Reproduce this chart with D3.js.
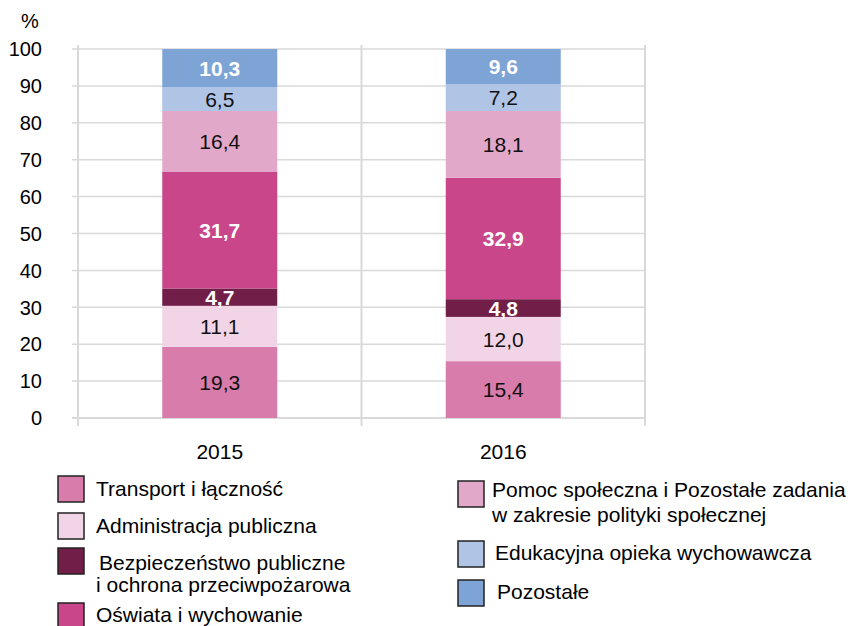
<!DOCTYPE html>
<html>
<head>
<meta charset="utf-8">
<script src="https://cdn.jsdelivr.net/npm/d3@7"></script>
<style>
  body { margin: 0; background: #fff; }
  svg { font-family: "Liberation Sans", Arial, sans-serif; }
</style>
</head>
<body>
<svg id="chart" width="854" height="626"></svg>
<script>
// Years on the category axis
const years = ["2015", "2016"];

// Spending categories, bottom to top of each stack
const categories = [
  "Transport i łączność",
  "Administracja publiczna",
  "Bezpieczeństwo publiczne i ochrona przeciwpożarowa",
  "Oświata i wychowanie",
  "Pomoc społeczna i Pozostałe zadania w zakresie polityki społecznej",
  "Edukacyjna opieka wychowawcza",
  "Pozostałe"
];

// Shares in percent per year, same order as categories
const values2015 = [19.3, 11.1, 4.7, 31.7, 16.4, 6.5, 10.3];
const values2016 = [15.4, 12.0, 4.8, 32.9, 18.1, 7.2, 9.6];

// Y axis ticks
const yTicks = [0, 10, 20, 30, 40, 50, 60, 70, 80, 90, 100];

const colors = ["#d77cab", "#f1d5e7", "#711f49", "#c9468a", "#e2a8c9", "#b0c4e6", "#7ea4d6"];
const whiteLabel = [false, false, true, true, false, false, true];

// Legend lines (wrapped text), left and right columns
const legendLines = [
  ["Transport i łączność"],
  ["Administracja publiczna"],
  ["Bezpieczeństwo publiczne", "i ochrona przeciwpożarowa"],
  ["Oświata i wychowanie"],
  ["Pomoc społeczna i Pozostałe zadania", "w zakresie polityki społecznej"],
  ["Edukacyjna opieka wychowawcza"],
  ["Pozostałe"]
];

const svg = d3.select("#chart");
const plotLeft = 78, plotRight = 645, plotTop = 49, plotBottom = 418;

const x = d3.scaleBand().domain(years).range([plotLeft, plotRight]).paddingInner(0).paddingOuter(0);
const y = d3.scaleLinear().domain([0, 100]).range([plotBottom, plotTop]);
const barW = 115;

const gridColor = "#d9d9d9";

// horizontal gridlines with small outward ticks
svg.append("g").selectAll("line").data(yTicks).join("line")
  .attr("x1", plotLeft - 6).attr("x2", plotRight)
  .attr("y1", d => y(d)).attr("y2", d => y(d))
  .attr("stroke", gridColor).attr("stroke-width", d => d === 0 ? 2 : 1.5);

// vertical lines at category boundaries
const bounds = [plotLeft, ...years.slice(1).map(d => x(d)), plotRight];
svg.append("g").selectAll("line").data(bounds).join("line")
  .attr("x1", d => d).attr("x2", d => d)
  .attr("y1", plotTop - 4).attr("y2", plotBottom + 8)
  .attr("stroke", gridColor).attr("stroke-width", 2);

// y tick labels
svg.append("g").selectAll("text").data(yTicks).join("text")
  .attr("x", 42).attr("y", d => y(d)).attr("dy", "0.36em")
  .attr("text-anchor", "end").attr("font-size", 20).attr("fill", "#000")
  .text(d => d);

svg.append("text").attr("x", 30).attr("y", 28).attr("text-anchor", "middle")
  .attr("font-size", 20).text("%");

// x labels
svg.append("g").selectAll("text").data(years).join("text")
  .attr("x", d => x(d) + x.bandwidth() / 2).attr("y", 459)
  .attr("text-anchor", "middle").attr("font-size", 21).text(d => d);

// stacked bars
const rows = years.map((yr, i) => {
  const vals = i === 0 ? values2015 : values2016;
  const r = { year: yr };
  categories.forEach((c, k) => r[c] = vals[k]);
  return r;
});
const stack = d3.stack().keys(categories)(rows);

stack.forEach((layer, k) => {
  const g = svg.append("g");
  g.selectAll("rect").data(layer).join("rect")
    .attr("x", d => x(d.data.year) + x.bandwidth() / 2 - barW / 2)
    .attr("width", barW)
    .attr("y", d => y(d[1]))
    .attr("height", d => y(d[0]) - y(d[1]))
    .attr("fill", colors[k]);
  g.selectAll("text").data(layer).join("text")
    .attr("x", d => x(d.data.year) + x.bandwidth() / 2)
    .attr("y", d => y((d[0] + d[1]) / 2))
    .attr("dy", "0.36em")
    .attr("text-anchor", "middle")
    .attr("font-size", 21)
    .attr("font-weight", whiteLabel[k] ? "bold" : "normal")
    .attr("fill", whiteLabel[k] ? "#fff" : "#111")
    .text(d => d3.format(".1f")(d[1] - d[0]).replace(".", ","));
});

// legend
const legendPos = [
  { sx: 58, sy: 476, tx: 96, ty: 496, lh: 23 },
  { sx: 58, sy: 513, tx: 96, ty: 533, lh: 23 },
  { sx: 58, sy: 548, tx: 99, ty: 570, lh: 22 },
  { sx: 58, sy: 603, tx: 96, ty: 622, lh: 23 },
  { sx: 458, sy: 481, tx: 492, ty: 497, lh: 25 },
  { sx: 458, sy: 541, tx: 495, ty: 560, lh: 23 },
  { sx: 458, sy: 580, tx: 497, ty: 599, lh: 23 }
];
const lg = svg.append("g");
categories.forEach((c, k) => {
  const p = legendPos[k];
  lg.append("rect").attr("x", p.sx).attr("y", p.sy).attr("width", 26).attr("height", 26)
    .attr("fill", colors[k]).attr("stroke", "#222").attr("stroke-width", 1.5);
  const t = lg.append("text").attr("font-size", 21).attr("fill", "#000");
  legendLines[k].forEach((line, j) => {
    t.append("tspan").attr("x", j === 0 ? p.tx : (k === 2 ? 96 : p.tx))
      .attr("y", p.ty + j * p.lh).text(line);
  });
});
</script>
</body>
</html>
